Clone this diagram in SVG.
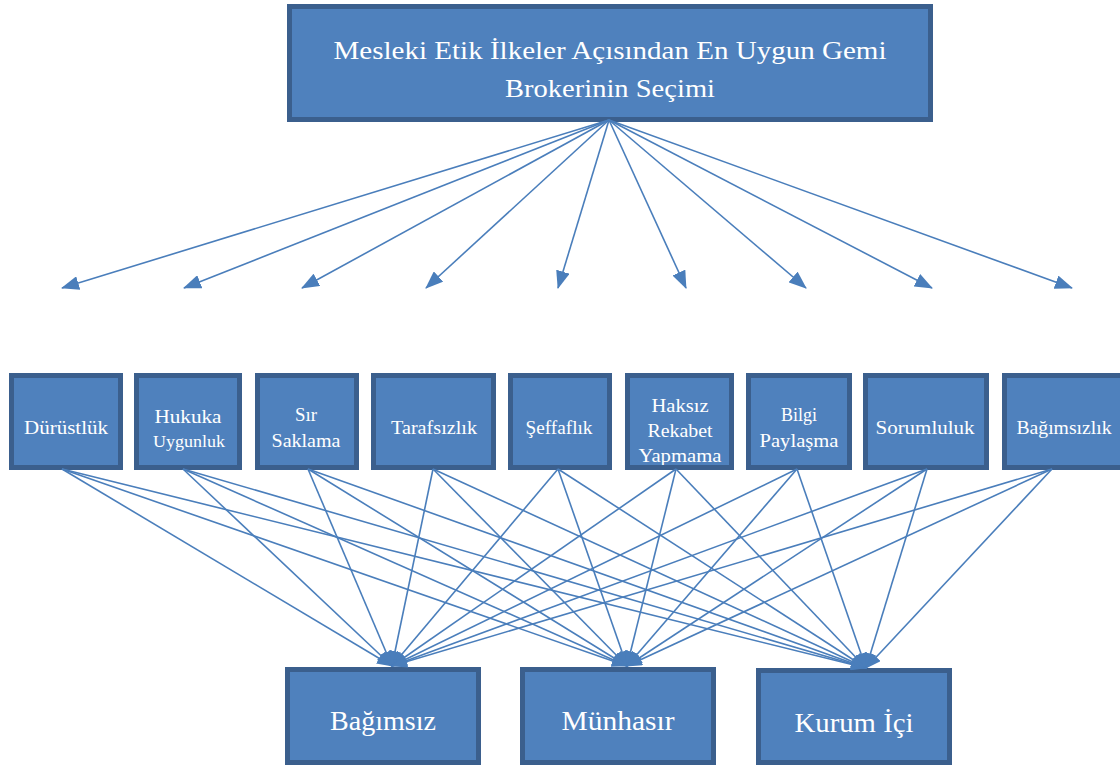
<svg xmlns="http://www.w3.org/2000/svg" width="1120" height="766" viewBox="0 0 1120 766">
<style>
.bx{fill:#4f81bd;stroke:#3b5f8d;stroke-width:5}
.bd{fill:none;stroke:#3b5f8d;stroke-width:5}
.fl{fill:#4f81bd}
text{font-family:"Liberation Serif","DejaVu Serif",serif;fill:#ffffff;text-anchor:middle}
.t{font-size:25px}
.c{font-size:19px}
.s{font-size:16px}
.b{font-size:27px}
.cn line{stroke:#4a7ebb;stroke-width:1.6}
.up line{marker-end:url(#ah)}
.dn line{marker-end:url(#ah2)}
</style>
<defs>
<marker id="ah" markerUnits="userSpaceOnUse" markerWidth="18" markerHeight="14" refX="17" refY="7" orient="auto"><path d="M0,0 L18,7 L0,14 z" fill="#4a7ebb"/></marker>
<marker id="ah2" markerUnits="userSpaceOnUse" markerWidth="16" markerHeight="12" refX="15" refY="6" orient="auto"><path d="M0,0 L16,6 L0,12 z" fill="#4a7ebb"/></marker>
</defs>

<g id="root">
<rect class="bx" x="289.5" y="6.5" width="641" height="113"/>
<text class="t" x="610" y="59" textLength="553" lengthAdjust="spacingAndGlyphs">Mesleki Etik İlkeler Açısından En Uygun Gemi</text>
<text class="t" x="610" y="97" textLength="210" lengthAdjust="spacingAndGlyphs">Brokerinin Seçimi</text>
</g>

<g id="c1">
<rect class="bx" x="11.5" y="375.5" width="109" height="92"/>
<text class="c" x="66" y="434" textLength="84" lengthAdjust="spacingAndGlyphs">Dürüstlük</text>
</g>
<g id="c2">
<rect class="bx" x="136.5" y="375.5" width="103" height="92"/>
<text class="c" x="188" y="423" textLength="67" lengthAdjust="spacingAndGlyphs">Hukuka</text>
<text class="s" x="189" y="447" textLength="72" lengthAdjust="spacingAndGlyphs">Uygunluk</text>
</g>
<g id="c3">
<rect class="bx" x="257.5" y="375.5" width="99" height="92"/>
<text class="c" x="306" y="421" textLength="22" lengthAdjust="spacingAndGlyphs">Sır</text>
<text class="c" x="306" y="447" textLength="69" lengthAdjust="spacingAndGlyphs">Saklama</text>
</g>
<g id="c4">
<rect class="bx" x="373.5" y="375.5" width="120" height="92"/>
<text class="c" x="434" y="434" textLength="86" lengthAdjust="spacingAndGlyphs">Tarafsızlık</text>
</g>
<g id="c5">
<rect class="bx" x="510.5" y="375.5" width="99" height="92"/>
<text class="c" x="559" y="434" textLength="67" lengthAdjust="spacingAndGlyphs">Şeffaflık</text>
</g>
<g id="c6">
<rect class="fl" x="627.5" y="375.5" width="104" height="92"/>
<text class="c" x="680" y="412" textLength="57" lengthAdjust="spacingAndGlyphs">Haksız</text>
<text class="c" x="680" y="437" textLength="65" lengthAdjust="spacingAndGlyphs">Rekabet</text>
<text class="c" x="680" y="462" textLength="83" lengthAdjust="spacingAndGlyphs">Yapmama</text>
<rect class="bd" x="627.5" y="375.5" width="104" height="92"/>
</g>
<g id="c7">
<rect class="bx" x="748.5" y="375.5" width="101" height="92"/>
<text class="c" x="799" y="421" textLength="36" lengthAdjust="spacingAndGlyphs">Bilgi</text>
<text class="c" x="799" y="447" textLength="79" lengthAdjust="spacingAndGlyphs">Paylaşma</text>
</g>
<g id="c8">
<rect class="bx" x="865.5" y="375.5" width="121" height="92"/>
<text class="c" x="925" y="434" textLength="99" lengthAdjust="spacingAndGlyphs">Sorumluluk</text>
</g>
<g id="c9">
<rect class="bx" x="1004.5" y="375.5" width="125" height="92"/>
<text class="c" x="1064" y="434" textLength="95" lengthAdjust="spacingAndGlyphs">Bağımsızlık</text>
</g>

<g id="a1">
<rect class="bx" x="287.5" y="669.5" width="191" height="93"/>
<text class="b" x="383" y="730" textLength="106" lengthAdjust="spacingAndGlyphs">Bağımsız</text>
</g>
<g id="a2">
<rect class="bx" x="522.5" y="669.5" width="191" height="93"/>
<text class="b" x="618" y="730" textLength="113" lengthAdjust="spacingAndGlyphs">Münhasır</text>
</g>
<g id="a3">
<rect class="bx" x="758.5" y="670.5" width="191" height="92"/>
<text class="b" x="854" y="732" textLength="119" lengthAdjust="spacingAndGlyphs">Kurum İçi</text>
</g>

<g id="connectors" class="cn">
<g class="up">
<line x1="609" y1="120" x2="62" y2="288"/>
<line x1="609" y1="120" x2="184" y2="288"/>
<line x1="609" y1="120" x2="302" y2="288"/>
<line x1="609" y1="120" x2="426" y2="288"/>
<line x1="609" y1="120" x2="558" y2="288"/>
<line x1="609" y1="120" x2="686" y2="288"/>
<line x1="609" y1="120" x2="806" y2="288"/>
<line x1="609" y1="120" x2="932" y2="288"/>
<line x1="609" y1="120" x2="1072" y2="288"/>
</g>
<g class="dn">
<line x1="62" y1="469" x2="392" y2="666"/>
<line x1="62" y1="469" x2="627" y2="666"/>
<line x1="62" y1="469" x2="866" y2="668"/>
<line x1="183" y1="469" x2="392" y2="666"/>
<line x1="183" y1="469" x2="627" y2="666"/>
<line x1="183" y1="469" x2="866" y2="668"/>
<line x1="308" y1="469" x2="392" y2="666"/>
<line x1="308" y1="469" x2="627" y2="666"/>
<line x1="308" y1="469" x2="866" y2="668"/>
<line x1="433" y1="469" x2="392" y2="666"/>
<line x1="433" y1="469" x2="627" y2="666"/>
<line x1="433" y1="469" x2="866" y2="668"/>
<line x1="558" y1="469" x2="392" y2="666"/>
<line x1="558" y1="469" x2="627" y2="666"/>
<line x1="558" y1="469" x2="866" y2="668"/>
<line x1="676" y1="469" x2="392" y2="666"/>
<line x1="676" y1="469" x2="627" y2="666"/>
<line x1="676" y1="469" x2="866" y2="668"/>
<line x1="797" y1="469" x2="392" y2="666"/>
<line x1="797" y1="469" x2="627" y2="666"/>
<line x1="797" y1="469" x2="866" y2="668"/>
<line x1="927" y1="469" x2="392" y2="666"/>
<line x1="927" y1="469" x2="627" y2="666"/>
<line x1="927" y1="469" x2="866" y2="668"/>
<line x1="1052" y1="469" x2="392" y2="666"/>
<line x1="1052" y1="469" x2="627" y2="666"/>
<line x1="1052" y1="469" x2="866" y2="668"/>
</g>
</g>
</svg>
